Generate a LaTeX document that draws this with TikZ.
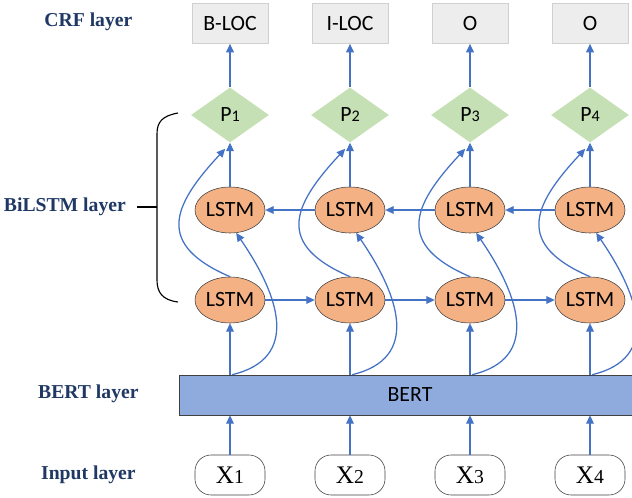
\documentclass[tikz,border=0pt]{standalone}
\usepackage{fontspec}
\setmainfont{Liberation Serif}
\setsansfont{Carlito}
\usetikzlibrary{shapes.geometric,arrows.meta}

\definecolor{arrowblue}{HTML}{4472C4}
\definecolor{lstmfill}{HTML}{F4B183}
\definecolor{bertfill}{HTML}{8FAADC}
\definecolor{probfill}{HTML}{C5E0B4}
\definecolor{tagfill}{HTML}{EDEDED}
\definecolor{tagline}{HTML}{D0D0D0}
\definecolor{layernavy}{HTML}{1F3864}
\definecolor{edgegray}{HTML}{404040}

\newcommand{\subidx}[1]{{\fontsize{11.5}{12}\selectfont #1}}
\newcommand{\wordidx}[1]{{\fontsize{14}{15}\selectfont #1}}

\tikzset{
	tag/.style = {draw = tagline, fill = tagfill, minimum width = 1.9cm, minimum height = 1cm,
		font = \sffamily\fontsize{15.5}{18}\selectfont},
	prob/.style = {diamond, fill = probfill, minimum width = 1.95cm, minimum height = 1.375cm,
		inner sep = 0pt, font = \sffamily\fontsize{15.5}{18}\selectfont},
	lstm/.style = {ellipse, draw = edgegray, fill = lstmfill, minimum width = 1.75cm,
		minimum height = 1.15cm, inner sep = 0pt, font = \sffamily\fontsize{15.5}{18}\selectfont},
	word/.style = {draw = edgegray, fill = white, rounded corners = 0.4cm, minimum width = 1.75cm,
		minimum height = 1cm, font = \fontsize{18}{20}\selectfont},
	layername/.style = {text = layernavy, font = \bfseries\fontsize{14}{16}\selectfont},
	link/.style = {draw = arrowblue, line width = 0.9pt, ->},
}

\begin{document}
\begin{tikzpicture}[>={Triangle[length=6pt, width=5.5pt]}]

\useasboundingbox (0, 0) rectangle (15.8, 12.45);
\clip (0, 0) rectangle (15.8, 12.45);

% BERT runs off the right edge
\node[draw = edgegray, fill = bertfill, minimum width = 11.55cm, minimum height = 1cm,
	font = \sffamily\fontsize{15.5}{18}\selectfont] (bert) at (10.25, 2.575) {BERT};

\foreach \i/\x/\t in {1/5.75/B-LOC, 2/8.75/I-LOC, 3/11.75/O, 4/14.75/O} {
	\node[word] (x\i) at (\x, 0.575) {X\wordidx{\i}};
	\node[lstm] (fl\i) at (\x, 4.95) {LSTM};
	\node[lstm] (bu\i) at (\x, 7.2) {LSTM};
	\node[prob] (p\i) at (\x, 9.575) {P\subidx{\i}};
	\node[tag] (crf\i) at (\x, 11.86) {\t};

	\coordinate (b\i) at (fl\i |- bert.north);
	\coordinate (s\i) at (x\i |- bert.south);

	\draw[link] (x\i) -- (s\i);
	\draw[link] (b\i) -- (fl\i);
	\draw[link] (bu\i) -- (p\i);
	\draw[link] (p\i) -- (crf\i);

	% skip connections round the two LSTM rows
	\draw[link] (fl\i.north) .. controls +(-1.85, 0.8) and +(-1.35, -1.45) .. ([xshift = -0.12cm, yshift = -0.15cm]p\i.south);
	\draw[link] ([xshift = 0.05cm]b\i) .. controls +(1.7, 0.4) and +(1.1, -1.6) .. (bu\i.-75);
}

\foreach \i/\j in {1/2, 2/3, 3/4} {
	\draw[link] (fl\i) -- (fl\j);
	\draw[link] (bu\j) -- (bu\i);
}

% brace for the BiLSTM rows
\draw[line width = 0.8pt] (4.45, 9.625) .. controls (4.05, 9.55) and (3.925, 9.4) .. (3.925, 9.1)
	-- (3.925, 5.45) .. controls (3.925, 5.15) and (4.05, 4.95) .. (4.45, 4.9);
\draw[line width = 0.8pt] (3.425, 7.275) -- (3.925, 7.275);

\node[layername] (crfname) at (2.21, 11.9) {CRF layer};
\node[layername, anchor = east] (bilstmname) at (3.27, 7.275) {BiLSTM layer};
\node[layername] (bertname) at (2.21, 2.6) {BERT layer};
\node[layername] (inputname) at (2.21, 0.575) {Input layer};

\end{tikzpicture}
\end{document}
